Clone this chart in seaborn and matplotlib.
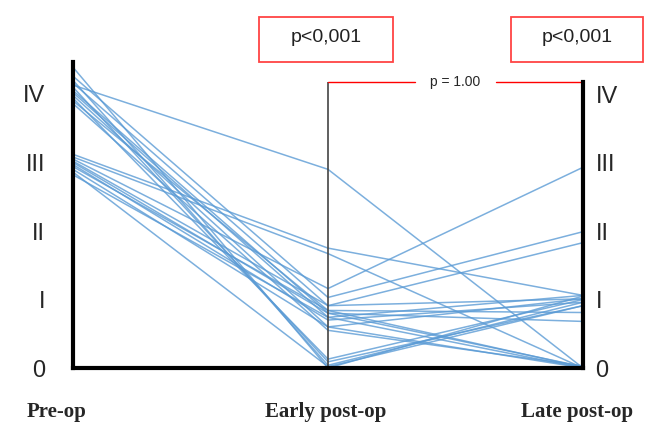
import numpy as np
import pandas as pd
import seaborn as sns
import matplotlib.pyplot as plt
from matplotlib.patches import Rectangle

# Grade per patient at the three time points
pre_op = [4.39, 4.20, 4.16, 4.13, 4.10, 4.05, 4.02, 3.98, 3.94, 3.90, 3.86, 4.26,
          3.12, 3.08, 3.05, 3.02, 3.00, 2.97, 2.94, 2.90, 2.86, 2.82]
early_post = [0.00, 0.04, 0.91, 2.90, 0.09, 0.80, 0.74, 0.60, 0.13, 0.84, 0.55, 1.03,
              1.75, 1.67, 1.16, 0.91, 0.80, 0.70, 0.84, 0.60, 0.02, 0.74]
late_post = [1.05, 0.96, 1.01, 0.00, 0.91, 0.02, 1.06, 0.00, 1.00, 0.81, 0.03, 1.99,
             1.06, 0.00, 2.93, 1.83, 0.68, 0.96, 0.01, 1.01, 0.91, 0.00]

time_labels = ["Pre-op", "Early post-op", "Late post-op"]
grade_labels = ["0", "I", "II", "III", "IV"]
p_values = ["p<0,001", "p<0,001"]
p_between = "p = 1.00"

n = len(pre_op)
df = pd.DataFrame({
    "patient": np.tile(np.arange(n), 3),
    "time": np.repeat([0, 1, 2], n),
    "grade": pre_op + early_post + late_post,
})

sns.set_style("white")
plt.rcParams['font.family'] = ['Liberation Sans', 'DejaVu Sans']

fig = plt.figure(figsize=(6.46, 4.23), dpi=100)
unit = 68.5
ax = fig.add_axes([73 / 646, (423 - 368) / 423, 510 / 646, 5.3 * unit / 423])

sns.lineplot(data=df, x="time", y="grade", units="patient", estimator=None,
             color="#5B9BD5", alpha=0.8, lw=1.1, ax=ax, legend=False)

ax.set_xlim(0, 2)
ax.set_ylim(0, 5.3)
ax.set_xlabel("")
ax.set_ylabel("")
ax.set_xticks([])

# axes frame
ax.spines['top'].set_visible(False)
for s in ['left', 'right', 'bottom']:
    ax.spines[s].set_linewidth(3)
    ax.spines[s].set_color('black')
ax.spines['left'].set_bounds(0, 4.47)
ax.spines['right'].set_bounds(0, 4.18)
ax.spines['bottom'].set_bounds(0, 2)
ax.vlines(1, 0, 4.18, color='#444444', lw=1.2)

ax.set_yticks(range(5))
ax.set_yticklabels(grade_labels, fontsize=17)
ax.tick_params(axis='y', length=0, pad=20)

ax2 = ax.twinx()
ax2.set_ylim(0, 5.3)
ax2.set_yticks(range(5))
ax2.set_yticklabels(grade_labels, fontsize=17)
ax2.tick_params(axis='y', length=0, pad=9)
for s in ax2.spines.values():
    s.set_visible(False)

# time point labels
for xpos, lab in zip([-0.063, 0.99, 1.976], time_labels):
    ax.text(xpos, -0.64, lab, ha='center', va='center', fontsize=15,
            fontweight='bold', family=['Liberation Serif'])

# p-value boxes
for (bx, bw), pv in zip([(259, 134), (511, 132)], p_values):
    fig.add_artist(Rectangle((bx / 646, (423 - 62) / 423), bw / 646, 45 / 423,
                             transform=fig.transFigure, fill=False,
                             edgecolor='#ff4444', lw=1.3))
    fig.text((bx + bw / 2) / 646, (423 - 37) / 423, pv, ha='center', va='center',
             fontsize=14, color='#222222')

# bracket between early and late
ax.plot([1, 1.34], [4.18, 4.18], color='red', lw=1)
ax.plot([1.66, 2], [4.18, 4.18], color='red', lw=1)
ax.text(1.498, 4.18, p_between, ha='center', va='center', fontsize=10)

fig.savefig("out.png", dpi=100)
